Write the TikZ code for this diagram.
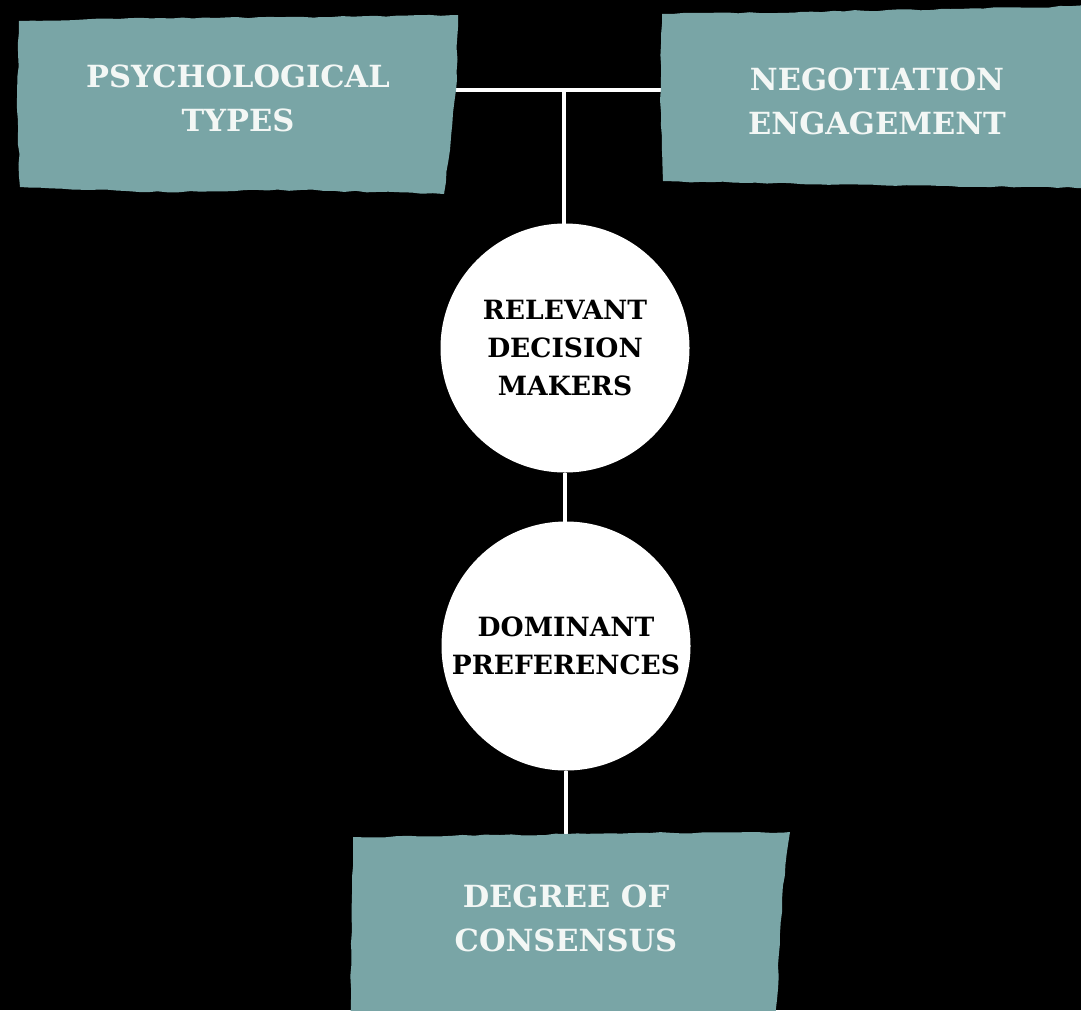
\documentclass[tikz,border=0pt]{standalone}
\usepackage{fontspec}
\setmainfont{DejaVu Serif}
\usetikzlibrary{decorations.pathmorphing,backgrounds}
\definecolor{teal}{RGB}{121,165,166}
\definecolor{paper}{RGB}{243,247,245}
\tikzset{
  wire/.style={draw=white, line width=4pt},
  brush/.style={fill=teal, decorate,
    decoration={random steps, segment length=11pt, amplitude=0.8pt}},
  boxlabel/.style={text=paper, align=center, font=\bfseries\fontsize{30.5}{44}\selectfont},
  disc/.style={circle, fill=white, minimum size=249pt, inner sep=0pt,
    align=center, text=black, font=\bfseries\fontsize{26.5}{38}\selectfont},
}
\begin{document}
\begin{tikzpicture}[x=1pt, y=-1pt]
  \pgfmathsetseed{11}
  \begin{pgfonlayer}{background}
    \fill[black] (0,0) rectangle (1081,1010);
  \end{pgfonlayer}
  \useasboundingbox (0,0) rectangle (1081,1010);

  % rough teal panels
  \fill[brush] (19,21) -- (160,18) -- (320,17) -- (458,15) -- (456,90)
    -- (450,150) -- (444,194) -- (300,190) -- (150,192) -- (20,187)
    -- (17,110) -- cycle;
  \fill[brush] (662,14) -- (800,12) -- (950,9) -- (1090,6) -- (1090,188)
    -- (950,186) -- (800,184) -- (663,181) -- (660,100) -- cycle;
  \fill[brush] (353,837) -- (500,835) -- (650,833) -- (790,832)
    -- (782,900) -- (776,1020) -- (350,1020) -- (352,930) -- cycle;

  % labels
  \node[boxlabel] (psy) at (238,98) {PSYCHOLOGICAL\\TYPES};
  \node[boxlabel] (neg) at (877,101) {NEGOTIATION\\ENGAGEMENT};
  \node[boxlabel] (deg) at (566,918) {DEGREE OF\\CONSENSUS};

  \node[disc] (rdm) at (565,348) {RELEVANT\\DECISION\\MAKERS};
  \node[disc] (dom) at (566,646) {DOMINANT\\PREFERENCES};

  \coordinate (j) at (564,90);

  % connectors, kept under panels and discs
  \begin{pgfonlayer}{background}
    \draw[wire] (psy.center |- j) -- (neg.center |- j);
    \draw[wire] (j) -- (j |- rdm.center);
    \draw[wire] (rdm) -- (rdm |- dom);
    \draw[wire] (dom) -- (deg);
  \end{pgfonlayer}
\end{tikzpicture}
\end{document}
